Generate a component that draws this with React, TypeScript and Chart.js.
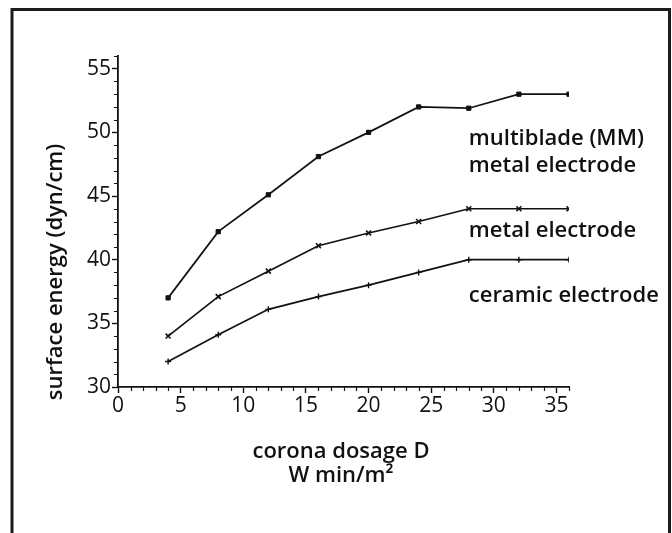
import React, { useEffect, useRef } from "react";
import { Chart, registerables } from "chart.js";

Chart.register(...registerables);

// ---- data ----
const doses = [4, 8, 12, 16, 20, 24, 28, 32, 36];
const multibladeEnergy = [37, 42.2, 45.1, 48.1, 50, 52, 51.9, 53, 53];
const metalEnergy = [34, 37.1, 39.1, 41.1, 42.1, 43, 44, 44, 44];
const ceramicEnergy = [32, 34.1, 36.1, 37.1, 38, 39, 40, 40, 40];

const xTickValues = [0, 5, 10, 15, 20, 25, 30, 35];
const yTickValues = [30, 35, 40, 45, 50, 55];

const seriesLabels = [
  { lines: ["multiblade (MM)", "metal electrode"], x: 28, y: [49.5, 47.35] },
  { lines: ["metal electrode"], x: 28, y: [42.3] },
  { lines: ["ceramic electrode"], x: 28, y: [37.2] },
];

const yTitle = "surface energy (dyn/cm)";
const xTitleLines = ["corona dosage D", "W min/m\u00B2"];

const FONT = "'Open Sans', 'DejaVu Sans', sans-serif";
const INK = "#111";

const decorPlugin = {
  id: "decor",
  beforeDraw(chart: any) {
    const ctx = chart.ctx;
    ctx.save();
    ctx.fillStyle = "#fff";
    ctx.fillRect(0, 0, chart.width, chart.height);
    ctx.strokeStyle = "#1c1c1c";
    ctx.lineWidth = 3;
    ctx.strokeRect(12, 9.5, 657.5, 600);
    ctx.restore();
  },
  afterDraw(chart: any) {
    const ctx = chart.ctx;
    const xs = chart.scales.x;
    const ys = chart.scales.y;
    ctx.save();
    ctx.strokeStyle = INK;
    ctx.lineWidth = 1.2;
    // minor ticks
    ctx.beginPath();
    for (let v = 1; v <= 36; v++) {
      if (v % 5 === 0) continue;
      const px = Math.round(xs.getPixelForValue(v)) + 0.5;
      ctx.moveTo(px, ys.bottom);
      ctx.lineTo(px, ys.bottom + 4);
    }
    for (let v = 31; v <= 56; v++) {
      if (v % 5 === 0) continue;
      const py = Math.round(ys.getPixelForValue(v)) + 0.5;
      ctx.moveTo(xs.left - 4, py);
      ctx.lineTo(xs.left, py);
    }
    ctx.stroke();

    // series annotations
    ctx.fillStyle = INK;
    ctx.font = `600 22px ${FONT}`;
    ctx.textAlign = "left";
    ctx.textBaseline = "middle";
    for (const s of seriesLabels) {
      s.lines.forEach((t, i) => {
        ctx.fillText(t, xs.getPixelForValue(s.x), ys.getPixelForValue(s.y[i]));
      });
    }

    // y title
    ctx.save();
    ctx.translate(56, 272);
    ctx.rotate(-Math.PI / 2);
    ctx.textAlign = "center";
    ctx.textBaseline = "middle";
    ctx.font = `600 22px ${FONT}`;
    ctx.fillText(yTitle, 0, 0);
    ctx.restore();

    // x title
    ctx.textAlign = "center";
    ctx.textBaseline = "middle";
    ctx.font = `600 22px ${FONT}`;
    ctx.fillText(xTitleLines[0], 341, 452);
    ctx.fillText(xTitleLines[1], 341, 476);
    ctx.restore();
  },
};

export default function App() {
  const ref = useRef<HTMLCanvasElement | null>(null);
  useEffect(() => {
    if (!ref.current) return;
    const common = {
      borderColor: INK,
      backgroundColor: INK,
      borderWidth: 1.7,
      pointBorderColor: INK,
      pointBackgroundColor: INK,
      tension: 0,
    };
    const chart = new Chart(ref.current, {
      type: "line",
      data: {
        datasets: [
          {
            ...common,
            label: "multiblade (MM) metal electrode",
            data: doses.map((d, i) => ({ x: d, y: multibladeEnergy[i] })),
            pointStyle: "rect",
            pointRadius: 3,
            pointBorderWidth: 1,
          },
          {
            ...common,
            label: "metal electrode",
            data: doses.map((d, i) => ({ x: d, y: metalEnergy[i] })),
            pointStyle: "crossRot",
            pointRadius: 3.5,
            pointBorderWidth: 1.6,
          },
          {
            ...common,
            label: "ceramic electrode",
            data: doses.map((d, i) => ({ x: d, y: ceramicEnergy[i] })),
            pointStyle: "cross",
            pointRadius: 3,
            pointBorderWidth: 1.4,
          },
        ],
      },
      options: {
        responsive: false,
        animation: false,
        devicePixelRatio: 1,
        layout: { padding: { top: 56, right: 103, bottom: 0, left: 0 } },
        plugins: {
          legend: { display: false },
          tooltip: { enabled: false },
        },
        scales: {
          x: {
            type: "linear",
            min: 0,
            max: 36,
            afterFit: (s: any) => {
              s.height = 146;
            },
            afterBuildTicks: (s: any) => {
              s.ticks = xTickValues.map((v) => ({ value: v }));
            },
            ticks: {
              color: INK,
              font: { family: FONT, size: 21, weight: "500" },
              padding: 0,
              maxRotation: 0,
              autoSkip: false,
            },
            grid: {
              drawOnChartArea: false,
              drawTicks: true,
              tickLength: 6,
              tickColor: INK,
              tickWidth: 1.4,
            },
            border: { display: true, color: INK, width: 1.8 },
          },
          y: {
            type: "linear",
            min: 30,
            max: 56,
            afterFit: (s: any) => {
              s.width = 118;
            },
            afterBuildTicks: (s: any) => {
              s.ticks = yTickValues.map((v) => ({ value: v }));
            },
            ticks: {
              color: INK,
              font: { family: FONT, size: 21, weight: "500" },
              padding: 1,
              autoSkip: false,
            },
            grid: {
              drawOnChartArea: false,
              drawTicks: true,
              tickLength: 6,
              tickColor: INK,
              tickWidth: 1.4,
            },
            border: { display: true, color: INK, width: 1.8 },
          },
        },
      },
      plugins: [decorPlugin],
    });
    return () => chart.destroy();
  }, []);
  return (
    <div style={{ position: "absolute", left: 0, top: 0, width: 672, height: 533, background: "#fff" }}>
      <canvas ref={ref} width={672} height={533} style={{ display: "block", width: 672, height: 533 }} />
    </div>
  );
}
